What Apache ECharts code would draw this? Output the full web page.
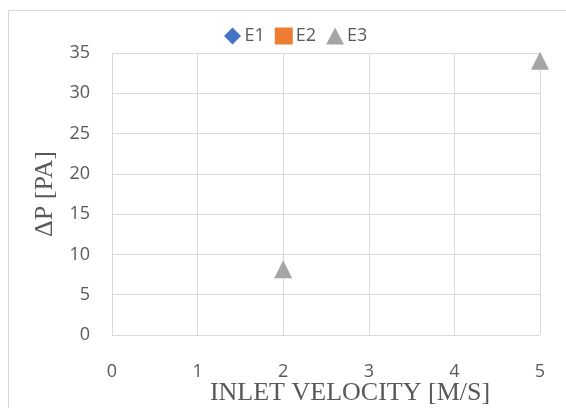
<!DOCTYPE html>
<html><head><meta charset="utf-8">
<script src="https://cdn.jsdelivr.net/npm/echarts@6/dist/echarts.min.js"></script>
<style>html,body{margin:0;padding:0;background:#fff}#c{width:566px;height:408px}</style>
</head><body><div id="c"></div>
<script>
const seriesNames = ['E1', 'E2', 'E3'];
const e1Velocity = [];
const e1Values = [];
const e2Velocity = [];
const e2Values = [];
const e3Velocity = [2, 5];
const e3Values = [8.15, 34.05];
const xTicks = [0, 1, 2, 3, 4, 5];
const yTicks = [0, 5, 10, 15, 20, 25, 30, 35];

const pairs = (xs, ys) => xs.map((x, i) => [x, ys[i]]);
const chart = echarts.init(document.getElementById('c'));
const diamond = 'path://M0,-1L1,0L0,1L-1,0Z';
const tickFont = {color: '#595959', fontSize: 18, fontFamily: 'Open Sans'};
const titleFont = {fontFamily: 'Liberation Serif', fontSize: 26, color: '#595959'};
chart.setOption({
  animation: false,
  graphic: [{type: 'rect', shape: {x: 8.5, y: 10.5, width: 700, height: 600}, style: {fill: 'none', stroke: '#d9d9d9', lineWidth: 1}, z: -10}],
  legend: {
    top: 22, left: 219, itemGap: 10, itemWidth: 18, itemHeight: 17,
    textStyle: {color: '#595959', fontSize: 18, fontFamily: 'Open Sans', padding: [0, 0, 0, -2]},
    data: [
      {name: seriesNames[0], icon: diamond, itemStyle: {color: '#4472c4'}},
      {name: seriesNames[1], icon: 'rect', itemStyle: {color: '#ed7d31'}},
      {name: seriesNames[2], icon: 'triangle', itemStyle: {color: '#a5a5a5'}}
    ]
  },
  grid: {left: 112, right: 26, top: 53, bottom: 73, containLabel: false, outerBoundsMode: 'none'},
  xAxis: {
    type: 'value', min: xTicks[0], max: xTicks[xTicks.length - 1], interval: 1,
    name: 'INLET VELOCITY [M/S]', nameLocation: 'middle', nameGap: 45, nameMoveOverlap: false,
    nameTextStyle: Object.assign({padding: [0, 0, 0, 48]}, titleFont),
    axisLine: {show: false}, axisTick: {show: false},
    axisLabel: Object.assign({margin: 28}, tickFont),
    splitLine: {show: true, lineStyle: {color: '#d9d9d9', width: 1}}
  },
  yAxis: {
    type: 'value', min: yTicks[0], max: yTicks[yTicks.length - 1], interval: 5,
    name: 'ΔP [PA]', nameLocation: 'middle', nameGap: 54, nameMoveOverlap: false,
    nameTextStyle: titleFont,
    axisLine: {show: false}, axisTick: {show: false},
    axisLabel: Object.assign({margin: 22}, tickFont),
    splitLine: {show: true, lineStyle: {color: '#d9d9d9', width: 1}}
  },
  series: [
    {name: seriesNames[0], type: 'scatter', symbol: diamond, symbolSize: 14, itemStyle: {color: '#4472c4', opacity: 1}, data: pairs(e1Velocity, e1Values)},
    {name: seriesNames[1], type: 'scatter', symbol: 'rect', symbolSize: 12, itemStyle: {color: '#ed7d31', opacity: 1}, data: pairs(e2Velocity, e2Values)},
    {name: seriesNames[2], type: 'scatter', symbol: 'triangle', symbolSize: 18, itemStyle: {color: '#a5a5a5', opacity: 1}, data: pairs(e3Velocity, e3Values)}
  ]
});
</script></body></html>
